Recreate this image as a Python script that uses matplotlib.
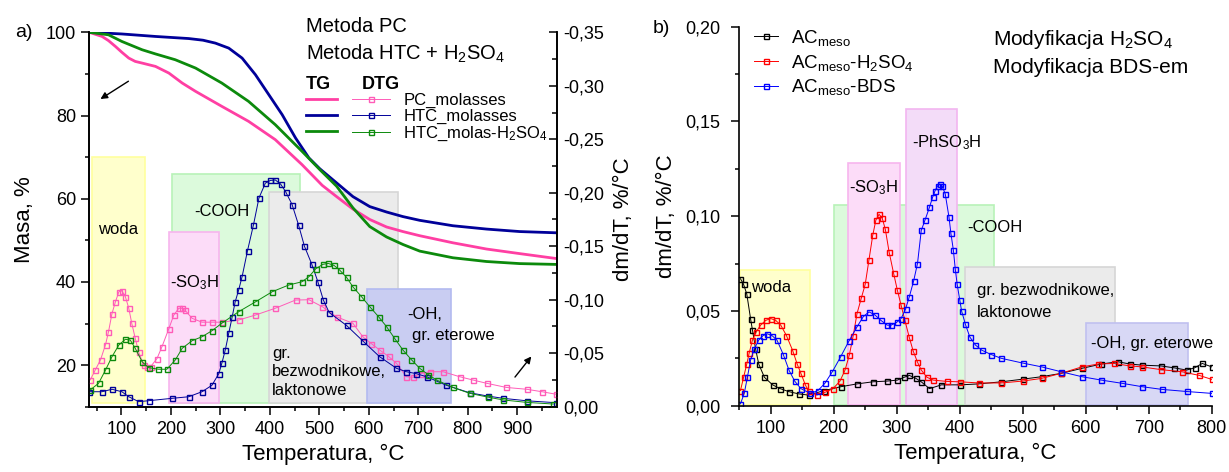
import matplotlib
matplotlib.use('Agg')
import matplotlib.pyplot as plt
from matplotlib.ticker import MultipleLocator, FuncFormatter
from matplotlib.patches import Rectangle

plt.rcParams['font.family'] = ['Liberation Sans', 'DejaVu Sans']
plt.rcParams['mathtext.fontset'] = 'custom'
plt.rcParams['mathtext.rm'] = 'Liberation Sans'
plt.rcParams['mathtext.it'] = 'Liberation Sans:italic'
plt.rcParams['mathtext.bf'] = 'Liberation Sans:bold'

# ---------------- panel a) : TG (Masa, %) ----------------
tg_pc_T = [35, 61, 74, 88, 101, 115, 128, 142, 169, 196, 223, 250, 303, 357, 411, 465, 506, 535,
           568, 602, 636, 669, 703, 770, 838, 905, 980]
tg_pc_m = [100, 99.0, 98.0, 96.6, 95.2, 93.8, 93.0, 92.6, 91.8, 90.2, 87.8, 85.8, 82.2, 78.6, 74.2,
           68.2, 63.2, 60.5, 57.5, 55.0, 53.2, 52.1, 51.1, 49.4, 47.9, 46.8, 45.6]

tg_htc_T = [35, 101, 169, 236, 265, 290, 317, 344, 371, 398, 425, 452, 479, 501, 535, 568, 602, 636,
            669, 703, 770, 838, 905, 980]
tg_htc_m = [100, 99.6, 99.0, 98.5, 98.1, 97.4, 96.2, 93.8, 89.8, 85.0, 80.2, 74.6, 69.8, 67.2, 63.8,
            60.5, 58.1, 56.8, 55.7, 54.8, 53.5, 52.7, 52.1, 51.8]

tg_h2so4_T = [35, 74, 101, 142, 169, 209, 250, 303, 357, 411, 465, 501, 535, 568, 602, 636, 669, 703,
              770, 838, 905, 980]
tg_h2so4_m = [100, 99.4, 97.8, 95.8, 94.8, 93.4, 91.4, 87.8, 83.4, 77.8, 71.4, 67.0, 63.0, 57.8, 53.3,
              50.8, 49.0, 47.4, 45.8, 44.9, 44.4, 44.2]

# ---------------- panel a) : DTG (dm/dT, %/°C) ----------------
dtg_pc_T = [37, 47, 58, 68, 74, 81, 88, 95, 101, 108, 115, 121, 128, 135, 145, 152, 159, 172, 182,
            196, 206, 216, 222, 229, 243, 263, 283, 303, 337, 371, 411, 452, 479, 506, 535, 568, 588,
            605, 622, 640, 656, 676, 690, 705, 723, 750, 784, 810, 838, 878, 919, 950, 979]
dtg_pc_v = [-0.025, -0.034, -0.044, -0.058, -0.070, -0.087, -0.098, -0.1075, -0.1084, -0.103, -0.092,
            -0.078, -0.064, -0.051, -0.039, -0.037, -0.0374, -0.045, -0.056, -0.073, -0.0857, -0.092,
            -0.092, -0.090, -0.0826, -0.079, -0.079, -0.079, -0.081, -0.0857, -0.092, -0.0997,
            -0.100, -0.0935, -0.084, -0.078, -0.0654, -0.059, -0.053, -0.047, -0.0405, -0.028,
            -0.0275, -0.031, -0.0327, -0.0327, -0.028, -0.025, -0.0219, -0.018, -0.0163, -0.014,
            -0.0116]

dtg_htc_T = [34, 61, 81, 101, 115, 135, 155, 202, 236, 263, 283, 297, 303, 310, 317, 324, 330, 337,
             344, 355, 367, 378, 391, 401, 411, 422, 432, 445, 458, 470, 485, 497, 508, 520, 555,
             589, 622, 656, 676, 695, 717, 757, 804, 840, 872, 920, 979]
dtg_htc_v = [-0.014, -0.014, -0.0163, -0.014, -0.0093, -0.0047, -0.0056, -0.0078, -0.0093, -0.014,
             -0.020, -0.031, -0.0405, -0.053, -0.0686, -0.084, -0.098, -0.109, -0.1215, -0.146,
             -0.170, -0.195, -0.209, -0.2115, -0.212, -0.208, -0.201, -0.189, -0.170, -0.150, -0.133,
             -0.117, -0.100, -0.088, -0.076, -0.061, -0.0467, -0.0359, -0.0327, -0.031, -0.028,
             -0.020, -0.013, -0.010, -0.0078, -0.0055, -0.0037]

dtg_h2so4_T = [37, 54, 68, 81, 95, 108, 118, 128, 142, 155, 175, 192, 209, 223, 243, 263, 283, 303,
               337, 371, 405, 438, 465, 479, 493, 507, 518, 530, 541, 555, 568, 585, 602, 620, 636,
               652, 669, 686, 703, 720, 737, 770, 804, 840, 872, 920, 973]
dtg_h2so4_v = [-0.0156, -0.0219, -0.0343, -0.0467, -0.0577, -0.063, -0.0623, -0.0546, -0.042,
               -0.0365, -0.035, -0.035, -0.0437, -0.0546, -0.0617, -0.0654, -0.071, -0.078, -0.0888,
               -0.098, -0.1075, -0.1137, -0.1168, -0.1215, -0.129, -0.133, -0.134, -0.132, -0.1278,
               -0.121, -0.112, -0.103, -0.0935, -0.084, -0.0748, -0.064, -0.053, -0.044, -0.0359,
               -0.030, -0.025, -0.018, -0.0125, -0.009, -0.0063, -0.004, -0.0025]

# regions of panel a): T from, T to, top (Masa, %)
reg_a_names = ['woda', 'COOH', 'SO3H', 'bezwodnikowe', 'OH']
reg_a_T0 = [40, 202, 197, 399, 596]
reg_a_T1 = [148, 462, 297, 659, 766]
reg_a_top = [70, 66, 52, 61.6, 38.2]
reg_a_bottom = 11

# ---------------- panel b) : DTG ----------------
b_meso_T = [52, 57, 62, 68, 71, 76, 81, 90, 103, 115, 129, 145, 160, 185, 211, 237, 262, 285, 301,
            312, 320, 330, 339, 352, 371, 401, 430, 466, 500, 530, 560, 594, 625, 651, 670, 689,
            719, 740, 760, 773, 785, 800]
b_meso_v = [0.067, 0.064, 0.059, 0.046, 0.040, 0.030, 0.022, 0.015, 0.011, 0.009, 0.0074, 0.0062,
            0.0056, 0.008, 0.010, 0.0115, 0.0126, 0.013, 0.0135, 0.015, 0.016, 0.0145, 0.0126,
            0.009, 0.011, 0.011, 0.0115, 0.0126, 0.014, 0.0153, 0.017, 0.0197, 0.022, 0.0232,
            0.022, 0.0214, 0.021, 0.020, 0.0188, 0.020, 0.0223, 0.0205]

b_h2so4_T = [52, 57, 62, 66, 71, 77, 84, 92, 100, 108, 116, 125, 135, 142, 148, 155, 160, 173, 186,
             199, 210, 218, 225, 231, 237, 244, 250, 256, 262, 267, 272, 277, 282, 288, 295, 301,
             307, 313, 320, 326, 333, 339, 348, 358, 380, 401, 430, 466, 500, 530, 560, 594, 620,
             645, 670, 689, 720, 753, 780, 800]
b_h2so4_v = [0.008, 0.015, 0.022, 0.028, 0.0346, 0.039, 0.0425, 0.045, 0.046, 0.045, 0.0425, 0.037,
             0.029, 0.022, 0.017, 0.011, 0.0077, 0.0056, 0.007, 0.009, 0.013, 0.0188, 0.027, 0.037,
             0.0486, 0.057, 0.064, 0.077, 0.090, 0.098, 0.101, 0.099, 0.093, 0.081, 0.070, 0.061,
             0.053, 0.045, 0.036, 0.029, 0.023, 0.0188, 0.015, 0.0135, 0.0128, 0.0126, 0.012, 0.012,
             0.013, 0.0144, 0.017, 0.0205, 0.022, 0.0223, 0.021, 0.0205, 0.019, 0.0179, 0.016, 0.0139]

b_bds_T = [52, 58, 63, 68, 74, 81, 88, 94, 102, 110, 120, 129, 138, 148, 163, 175, 186, 198, 211,
           224, 237, 247, 256, 265, 275, 285, 291, 300, 307, 314, 320, 327, 333, 339, 345, 352, 357,
           361, 365, 368, 372, 377, 383, 386, 390, 393, 396, 400, 403, 409, 416, 425, 435, 450, 466,
           500, 530, 560, 594, 625, 658, 690, 721, 760, 800]
b_bds_v = [0.001, 0.0065, 0.015, 0.024, 0.030, 0.0346, 0.037, 0.038, 0.037, 0.0346, 0.027, 0.0188,
           0.013, 0.009, 0.0065, 0.008, 0.0118, 0.018, 0.0258, 0.034, 0.0416, 0.047, 0.0495, 0.048,
           0.045, 0.0425, 0.0425, 0.044, 0.046, 0.051, 0.0574, 0.066, 0.075, 0.0925, 0.098, 0.1047,
           0.110, 0.1135, 0.116, 0.117, 0.116, 0.1118, 0.0995, 0.091, 0.082, 0.072, 0.064, 0.056,
           0.050, 0.043, 0.0363, 0.032, 0.0293, 0.027, 0.025, 0.0225, 0.0205, 0.018, 0.0153, 0.0135,
           0.0118, 0.010, 0.0086, 0.0075, 0.0065]

# regions of panel b): T from, T to, top
reg_b_names = ['woda', 'COOH', 'SO3H', 'PhSO3H', 'bezwodnikowe', 'OH']
reg_b_T0 = [52, 200, 223, 315, 408, 600]
reg_b_T1 = [162, 454, 305, 396, 647, 763]
reg_b_top = [0.0714, 0.106, 0.128, 0.1565, 0.073, 0.0439]

box_face = {'woda': '#ffffcc', 'COOH': '#dcfadc', 'SO3H': '#fcdcf8', 'PhSO3H': '#f3dcf8',
            'bezwodnikowe': '#ebebeb', 'OH': '#c9cdf2'}
box_edge = {'woda': '#ffff9e', 'COOH': '#b8f2b8', 'SO3H': '#f7b5ee', 'PhSO3H': '#f2b5f0',
            'bezwodnikowe': '#d6d6d6', 'OH': '#b3baf0'}

c_pink, c_pink2, c_navy, c_green = '#ff3fa3', '#ff5cb8', '#000099', '#0c8a0c'


def comma(v, pos):
    if abs(v) < 1e-9:
        v = 0.0
    return ('%.2f' % v).replace('.', ',')


W, H = 1229, 472
fig = plt.figure(figsize=(W / 100, H / 100), dpi=100)


def fx(px):
    return px / W


def fy(py):
    return 1 - py / H


mk = dict(marker='s', mfc='none', ms=3.6, mew=1.0, lw=0.7)

# ================= panel a =================
ax1 = fig.add_axes([fx(89.2), fy(406.7), fx(556.8) - fx(89.2), fy(32.3) - fy(406.7)])
ax2 = ax1.twinx()

for name, t0, t1, top in zip(reg_a_names, reg_a_T0, reg_a_T1, reg_a_top):
    ax1.add_patch(Rectangle((t0, reg_a_bottom), t1 - t0, top - reg_a_bottom,
                            facecolor=box_face[name], edgecolor=box_edge[name], lw=1.2, zorder=0.5))

l_pc, = ax1.plot(tg_pc_T, tg_pc_m, color=c_pink, lw=2, zorder=2)
l_htc, = ax1.plot(tg_htc_T, tg_htc_m, color=c_navy, lw=2, zorder=2)
l_h2, = ax1.plot(tg_h2so4_T, tg_h2so4_m, color=c_green, lw=2, zorder=2)

d_pc, = ax2.plot(dtg_pc_T, dtg_pc_v, color=c_pink2, **mk)
d_htc, = ax2.plot(dtg_htc_T, dtg_htc_v, color=c_navy, **mk)
d_h2, = ax2.plot(dtg_h2so4_T, dtg_h2so4_v, color=c_green, **mk)

ax1.set_xlim(35, 980)
ax1.set_ylim(10, 100)
ax2.set_ylim(0, -0.35)
ax1.xaxis.set_major_locator(MultipleLocator(100))
ax1.xaxis.set_minor_locator(MultipleLocator(50))
ax1.yaxis.set_major_locator(MultipleLocator(20))
ax1.yaxis.set_minor_locator(MultipleLocator(10))
ax2.yaxis.set_major_locator(MultipleLocator(0.05))
ax2.yaxis.set_minor_locator(MultipleLocator(0.025))
ax2.yaxis.set_major_formatter(FuncFormatter(comma))
ax1.tick_params(which='both', direction='out', labelsize=13, width=1.1)
ax1.tick_params(which='major', length=5.5, pad=4)
ax1.tick_params(which='minor', length=3)
ax1.tick_params(axis='x', pad=5)
ax2.tick_params(which='both', direction='in', labelsize=13, width=1.1)
ax2.tick_params(which='major', length=5.5, pad=5)
ax2.tick_params(which='minor', length=3.5)
for ax in (ax1, ax2):
    ax.spines['top'].set_visible(False)
    for s in ('left', 'right', 'bottom'):
        ax.spines[s].set_linewidth(1.2)
ax1.set_xlabel('Temperatura, °C', fontsize=16, labelpad=4)
ax1.set_ylabel('Masa, %', fontsize=16, labelpad=8)
ax2.set_ylabel('dm/dT, %/°C', fontsize=16, labelpad=6)

txt = dict(fontsize=12, transform=ax1.transData, zorder=10)
ax2.text(93, 52.5, 'woda', ha='center', va='center', **txt)
ax2.text(304, 57, '-COOH', ha='center', va='center', **txt)
ax2.text(248, 39.8, '-SO$_3$H', ha='center', va='center', **txt)
ax2.text(404, 18.4, 'gr.\nbezwodnikowe,\nlaktonowe', ha='left', va='center', linespacing=1.3, **txt)
ax2.text(678, 32.1, '-OH,', ha='left', va='center', **txt)
ax2.text(687, 27.0, 'gr. eterowe', ha='left', va='center', **txt)
ax2.annotate('', xy=(53, 83.6), xytext=(119, 88.6), xycoords=ax1.transData,
             textcoords=ax1.transData, arrowprops=dict(arrowstyle='-|>', color='k', lw=1,
                                                       mutation_scale=10))
ax2.annotate('', xy=(932, 22.6), xytext=(892, 16.6), xycoords=ax1.transData,
             textcoords=ax1.transData, arrowprops=dict(arrowstyle='-|>', color='k', lw=1,
                                                       mutation_scale=10))

fig.text(fx(15), fy(37), 'a)', fontsize=14)
fig.text(fx(306), fy(32), 'Metoda PC', fontsize=14.5)
fig.text(fx(306), fy(60), 'Metoda HTC + H$_2$SO$_4$', fontsize=14.5)
fig.text(fx(306), fy(89), 'TG', fontsize=13, fontweight='bold')
fig.text(fx(362), fy(89), 'DTG', fontsize=13, fontweight='bold')

fig.legend([l_pc, l_htc, l_h2], [' ', ' ', ' '], loc='upper left',
           bbox_to_anchor=(fx(306), fy(93)), frameon=False, fontsize=12,
           handlelength=1.86, handletextpad=0.2, labelspacing=0.05,
           borderpad=0, borderaxespad=0)
fig.legend([d_pc, d_htc, d_h2], ['PC_molasses', 'HTC_molasses', 'HTC_molas-H$_2$SO$_4$'],
           loc='upper left', bbox_to_anchor=(fx(352), fy(93)), frameon=False, fontsize=12,
           handlelength=2.28, handletextpad=0.8, labelspacing=0.05, numpoints=1,
           borderpad=0, borderaxespad=0)

# ================= panel b =================
bx = fig.add_axes([fx(739.2), fy(405.7), fx(1211.7) - fx(739.2), fy(26.7) - fy(405.7)])
for name, t0, t1, top in zip(reg_b_names, reg_b_T0, reg_b_T1, reg_b_top):
    face = box_face[name]
    edge = box_edge[name]
    if name == 'OH':
        face, edge = '#d8d8f5', '#c0c0f0'
    bx.add_patch(Rectangle((t0, 0.0005), t1 - t0, top - 0.0005,
                           facecolor=face, edgecolor=edge, lw=1.2, zorder=0.5))

b1, = bx.plot(b_meso_T, b_meso_v, color='black', **mk)
b2, = bx.plot(b_h2so4_T, b_h2so4_v, color='#ff0000', **mk)
b3, = bx.plot(b_bds_T, b_bds_v, color='#0000ff', **mk)

bx.set_xlim(50, 800)
bx.set_ylim(0, 0.2)
bx.xaxis.set_major_locator(MultipleLocator(100))
bx.xaxis.set_minor_locator(MultipleLocator(50))
bx.yaxis.set_major_locator(MultipleLocator(0.05))
bx.yaxis.set_minor_locator(MultipleLocator(0.025))
bx.yaxis.set_major_formatter(FuncFormatter(comma))
bx.tick_params(which='both', direction='out', labelsize=13, width=1.1)
bx.tick_params(which='major', length=5.5)
bx.tick_params(which='minor', length=3)
bx.tick_params(axis='y', pad=8)
bx.tick_params(axis='x', pad=5)
bx.spines['top'].set_visible(False)
bx.spines['right'].set_visible(False)
for s in ('left', 'bottom'):
    bx.spines[s].set_linewidth(1.2)
bx.set_xlabel('Temperatura, °C', fontsize=16, labelpad=4)
bx.set_ylabel('dm/dT, %/°C', fontsize=16, labelpad=6)

tb = dict(fontsize=12, zorder=10)
bx.text(324, 0.1388, '-PhSO$_3$H', ha='left', va='center', **tb)
bx.text(225, 0.115, '-SO$_3$H', ha='left', va='center', **tb)
bx.text(412, 0.094, '-COOH', ha='left', va='center', **tb)
bx.text(68, 0.0625, 'woda', ha='left', va='center', **tb)
bx.text(427, 0.061, 'gr. bezwodnikowe,', ha='left', va='center', **tb)
bx.text(427, 0.049, 'laktonowe', ha='left', va='center', **tb)
bx.text(609, 0.033, '-OH, gr. eterowe', ha='left', va='center', **tb)

fig.text(fx(653), fy(33), 'b)', fontsize=14)
fig.text(fx(993), fy(45), 'Modyfikacja H$_2$SO$_4$', fontsize=15)
fig.text(fx(993), fy(73), 'Modyfikacja BDS-em', fontsize=15)

bx.legend([b1, b2, b3],
          ['AC$_{\\mathrm{meso}}$', 'AC$_{\\mathrm{meso}}$-H$_2$SO$_4$', 'AC$_{\\mathrm{meso}}$-BDS'],
          loc='upper left', bbox_to_anchor=(fx(754), fy(28)), bbox_transform=fig.transFigure,
          frameon=False, fontsize=13.5, handlelength=1.3, handletextpad=0.65,
          labelspacing=0.25, numpoints=1, borderpad=0, borderaxespad=0)

fig.savefig('out.png', dpi=100)
